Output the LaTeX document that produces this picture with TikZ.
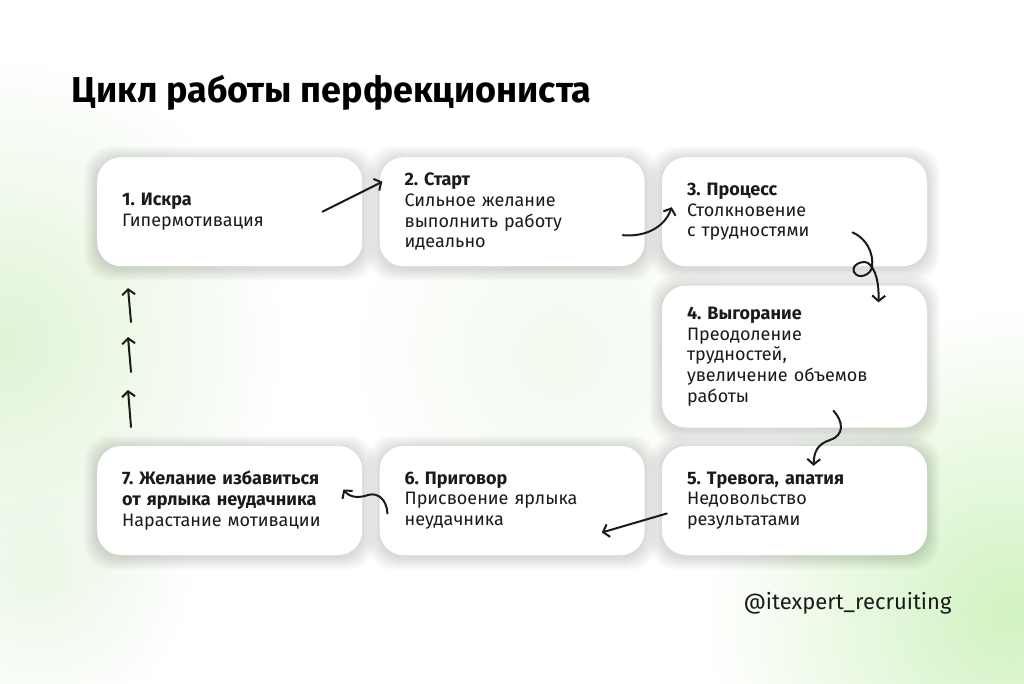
\documentclass[tikz,border=0pt]{standalone}
\usepackage{fontspec}
\setmainfont{Fira Sans}
\usetikzlibrary{arrows.meta,positioning,fadings}
\definecolor{ink}{HTML}{1A1A1A}
\definecolor{leaf}{HTML}{D2F3C2}
\definecolor{mist}{HTML}{E0F4D6}
\tikzfading[name=blob,inner color=transparent!0,outer color=transparent!100]
\pgfdeclarelayer{back}
\pgfdeclarelayer{shade}
\pgfsetlayers{back,shade,main}
\newcommand{\stagetitle}[1]{{\bfseries #1}}
\frenchspacing

\begin{document}
\begin{tikzpicture}[x=1pt,y=1pt,
card/.style={fill=white,rounded corners=24pt,minimum width=265pt,minimum height=109pt,text width=215pt,inner xsep=25pt,inner ysep=4pt,align=left,text=ink,font=\fontsize{18}{20.8}\selectfont},
scribble/.style={-{Straight Barb[length=5.5pt,width=13pt]},line width=2pt,ink,line cap=round,line join=round}]

% background
\useasboundingbox (0,0) rectangle (1024,683);
\begin{pgfonlayer}{back}
\fill[white] (0,0) rectangle (1024,683);
\fill[leaf,path fading=blob] (1010,70) circle (300);
\fill[mist,path fading=blob] (0,340) circle (280);
\fill[mist!60,path fading=blob] (40,110) circle (150);
\fill[mist!40,path fading=blob] (560,330) circle (200);
\end{pgfonlayer}

\node[anchor=base west,text=black,font=\bfseries\fontsize{36}{40}\selectfont] (title) at (68,580){Цикл работы перфекциониста};

\node[card,anchor=north west] (b1) at (97,526){\stagetitle{1. Искра}\\Гипермотивация};
\node[card,right=17pt of b1] (b2) {\stagetitle{2. Старт}\\Сильное желание\\выполнить работу\\идеально};
\node[card,right=17pt of b2] (b3) {\stagetitle{3. Процесс}\\Столкновение\\с трудностями};
\node[card,minimum height=142pt,below=19pt of b3] (b4) {\stagetitle{4. Выгорание}\\Преодоление\\трудностей,\\увеличение объемов\\работы};
\node[card,below=18pt of b4] (b5) {\stagetitle{5. Тревога, апатия}\\Недовольство\\результатами};
\node[card,left=17pt of b5] (b6) {\stagetitle{6. Приговор}\\Присвоение ярлыка\\неудачника};
\node[card,left=17pt of b6] (b7) {\stagetitle{7. Желание избавиться}\\\stagetitle{от ярлыка неудачника}\\Нарастание мотивации};

% soft shadows under the cards
\begin{pgfonlayer}{shade}
\foreach \n in {b1,b2,b3,b4,b5,b6,b7}{
  \foreach \k in {1,...,9}{
    \fill[black,opacity=0.016,rounded corners=26pt]
      ([shift={(-1.4*\k,-1.4*\k-2)}]\n.south west) rectangle ([shift={(1.4*\k,1.4*\k-2)}]\n.north east);
  }
}
\end{pgfonlayer}

% hand drawn arrows
\coordinate (s12) at ([xshift=-40pt]b1.east);
\coordinate (e12) at ([xshift=3pt,yshift=30pt]b2.west);
\coordinate (s23) at ([xshift=-22pt,yshift=-23.5pt]b2.east);
\coordinate (e23) at ([xshift=10pt,yshift=4.5pt]b3.west);
\coordinate (s34) at ([xshift=58pt,yshift=34pt]b3.south);
\coordinate (e34) at ([xshift=84pt,yshift=-17pt]b4.north);
\coordinate (s45) at ([xshift=39pt,yshift=17pt]b4.south);
\coordinate (e45) at ([xshift=19pt,yshift=-20pt]b5.north);
\coordinate (s56) at ([xshift=5pt,yshift=-13pt]b5.west);
\coordinate (e56) at ([xshift=-43pt,yshift=-32pt]b6.east);
\coordinate (s67) at ([xshift=8pt,yshift=-13pt]b6.west);
\coordinate (e67) at ([xshift=-19pt,yshift=11pt]b7.east);

\draw[scribble] (s12) -- (e12);
\draw[scribble] (s23) to[out=-5,in=-110] (e23);
\draw[scribble] (s34) .. controls (866,445) and (874,430) .. (872,416)
  .. controls (871,408) and (858,403) .. (854,411)
  .. controls (851,418) and (862,423) .. (868,420)
  .. controls (876,414) and (879,400) .. (e34);
\draw[scribble] (s45) .. controls (843,262) and (845,248) .. (830,243)
  .. controls (818,239) and (814,232) .. (e45);
\draw[scribble] (s56) -- (e56);
\draw[scribble] (s67) .. controls (387,183) and (378,191) .. (368,188)
  .. controls (360,185) and (350,185) .. (e67);

\foreach \ya/\yb [count=\i] in {256/293,311/346,361/395}{
  \coordinate (up\i s) at (131,\ya);
  \coordinate (up\i e) at (128,\yb);
  \draw[scribble] (up\i s) -- (up\i e);
}

\node[anchor=base east,text=ink,font=\fontsize{22}{25}\selectfont] (handle) at (955,74){@itexpert\_recruiting};
\end{tikzpicture}
\end{document}
